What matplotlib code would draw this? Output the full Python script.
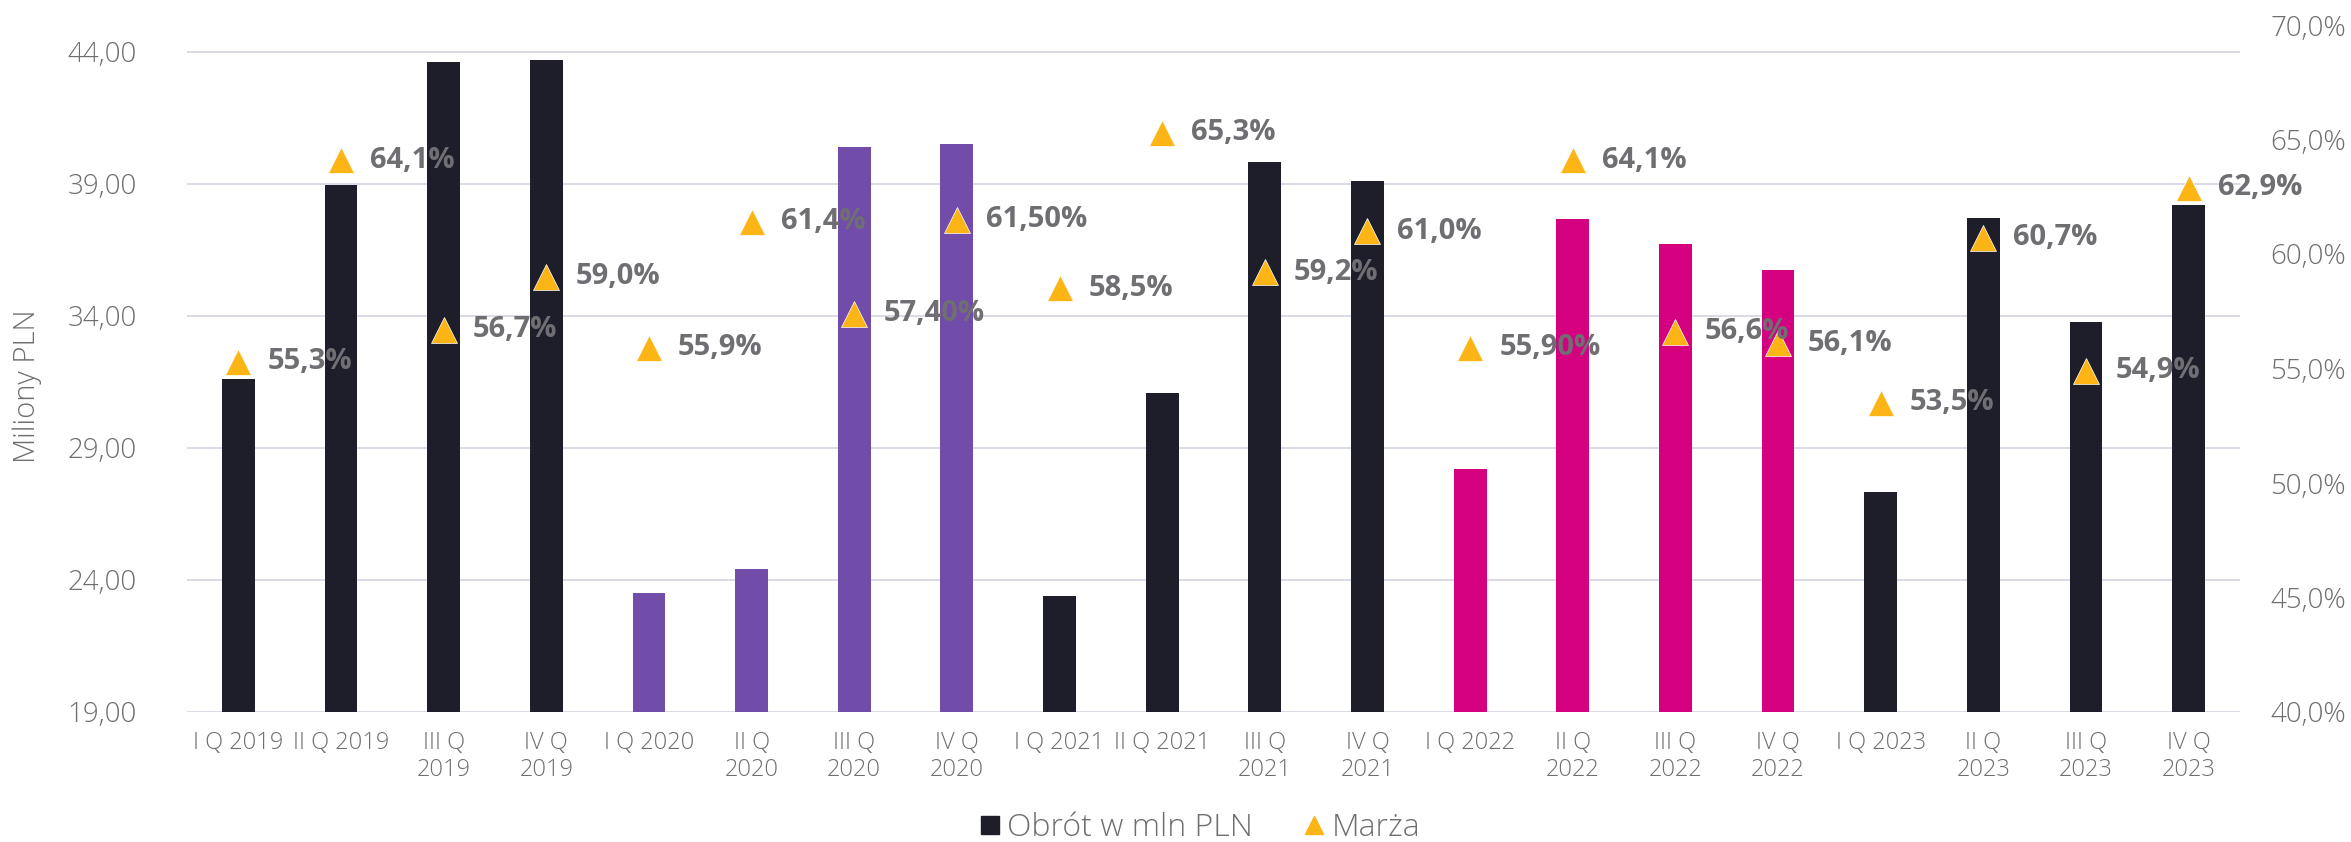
import matplotlib.pyplot as plt
from matplotlib.lines import Line2D

# quarters (tick labels wrap like the original)
QUARTERS = [
    "I Q 2019", "II Q 2019", "III Q\n2019", "IV Q\n2019",
    "I Q 2020", "II Q\n2020", "III Q\n2020", "IV Q\n2020",
    "I Q 2021", "II Q 2021", "III Q\n2021", "IV Q\n2021",
    "I Q 2022", "II Q\n2022", "III Q\n2022", "IV Q\n2022",
    "I Q 2023", "II Q\n2023", "III Q\n2023", "IV Q\n2023",
]
# turnover, mln PLN
OBROT = [31.6, 38.95, 43.63, 43.71,
         23.5, 24.4, 40.4, 40.5,
         23.4, 31.1, 39.85, 39.1,
         28.2, 37.67, 36.73, 35.74,
         27.35, 37.72, 33.78, 38.2]
# margin, %
MARZA = [55.3, 64.1, 56.7, 59.0,
         55.9, 61.4, 57.4, 61.5,
         58.5, 65.3, 59.2, 61.0,
         55.9, 64.1, 56.6, 56.1,
         53.5, 60.7, 54.9, 62.9]
MARZA_LABELS = ["55,3%", "64,1%", "56,7%", "59,0%",
                "55,9%", "61,4%", "57,40%", "61,50%",
                "58,5%", "65,3%", "59,2%", "61,0%",
                "55,90%", "64,1%", "56,6%", "56,1%",
                "53,5%", "60,7%", "54,9%", "62,9%"]

DARK = "#1d1e2a"
PURPLE = "#714ca8"
MAGENTA = "#d40080"
BAR_COLORS = [DARK] * 4 + [PURPLE] * 4 + [DARK] * 4 + [MAGENTA] * 4 + [DARK] * 4
ORANGE = "#fdb515"
GREY = "#6f6f73"
GRID = "#d9dbe6"

FONT = "Open Sans"

W, H = 2351, 842
fig = plt.figure(figsize=(W / 100, H / 100), dpi=100)
left, right = 187 / W, 2240 / W
bottom, top = (H - 712) / H, (H - 25) / H
ax = fig.add_axes([left, bottom, right - left, top - bottom])

x = list(range(len(QUARTERS)))
ax.bar(x, OBROT, width=0.32, color=BAR_COLORS, zorder=2)
ax.set_xlim(-0.5, len(QUARTERS) - 0.5)
ax.set_ylim(19, 19 + 687 / 26.4)
ax.set_yticks([19, 24, 29, 34, 39, 44])
ax.set_yticklabels(["19,00", "24,00", "29,00", "34,00", "39,00", "44,00"])
ax.yaxis.grid(True, color=GRID, lw=1.4, zorder=0)
ax.set_axisbelow(True)
ax.set_xticks(x)
ax.set_xticklabels(QUARTERS, linespacing=1.15)
ax.tick_params(axis="y", length=0, pad=36, labelsize=20, labelcolor=GREY)
ax.tick_params(axis="x", length=0, pad=14, labelsize=17, labelcolor=GREY)
for lab in ax.get_xticklabels() + ax.get_yticklabels():
    lab.set_fontfamily(FONT)
    lab.set_fontweight("light")
for s in ax.spines.values():
    s.set_visible(False)

ax2 = ax.twinx()
ax2.plot(x, MARZA, ls="none", marker="^", ms=19, color=ORANGE,
         mec="white", mew=0.5, zorder=3)
ax2.set_ylim(40, 70)
ax2.set_yticks([40, 45, 50, 55, 60, 65, 70])
ax2.set_yticklabels(["40,0%", "45,0%", "50,0%", "55,0%", "60,0%", "65,0%", "70,0%"])
ax2.tick_params(axis="y", length=0, pad=22, labelsize=20, labelcolor=GREY)
for lab in ax2.get_yticklabels():
    lab.set_fontfamily(FONT)
    lab.set_fontweight("light")
for s in ax2.spines.values():
    s.set_visible(False)

for xi, m, lab in zip(x, MARZA, MARZA_LABELS):
    ax2.annotate(lab, (xi, m), xytext=(21, 0), textcoords="offset points",
                 ha="left", va="center", fontsize=21, fontweight="bold",
                 color=GREY, family=FONT, zorder=5)

fig.text(27 / W, 1 - 386 / H, "Miliony PLN", rotation=90, ha="center",
         va="center", fontsize=21, color=GREY, family=FONT, fontweight="light")

handles = [
    Line2D([], [], ls="none", marker="s", ms=13, color=DARK, label="Obrót w mln PLN"),
    Line2D([], [], ls="none", marker="^", ms=13, color=ORANGE, label="Marża"),
]
leg = fig.legend(handles=handles, loc="center", bbox_to_anchor=(1200 / W, 1 - 828 / H),
                 ncol=2, frameon=False, handlelength=0.6, handletextpad=0.25,
                 columnspacing=1.6, prop={"family": FONT, "size": 23, "weight": "light"})
for t in leg.get_texts():
    t.set_color(GREY)

fig.savefig("out.png", dpi=100)
